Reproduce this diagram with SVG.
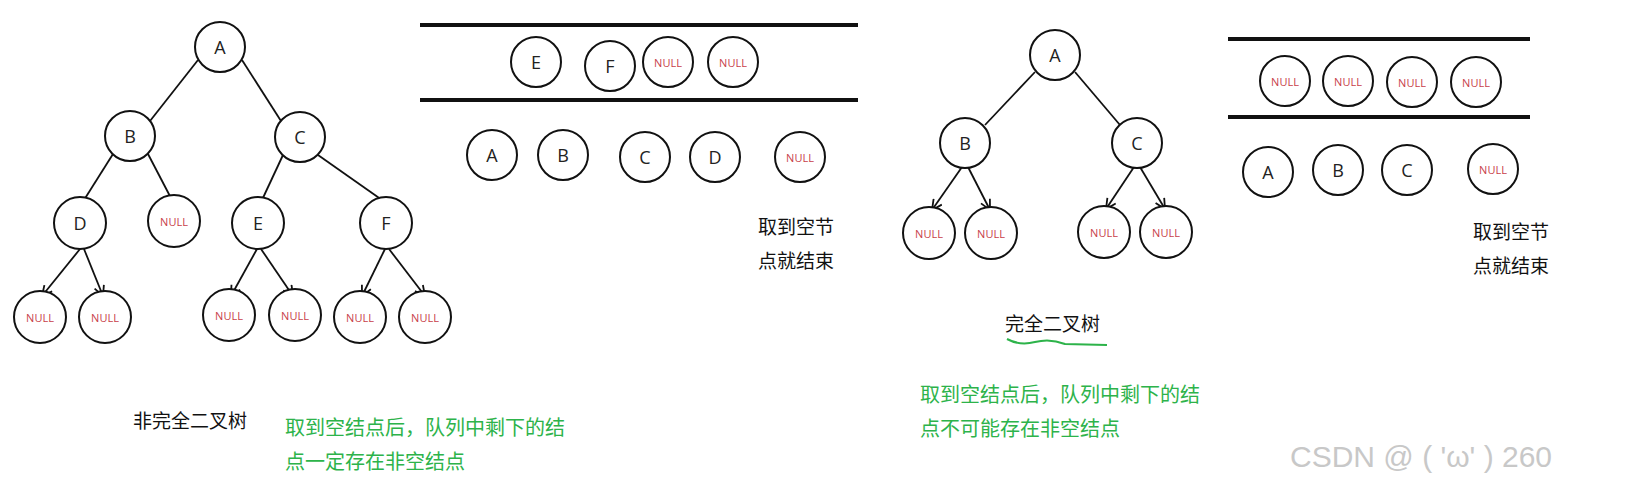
<svg xmlns="http://www.w3.org/2000/svg" width="1626" height="500" viewBox="0 0 1626 500">
<style>
.n{fill:#fff;stroke:#111;stroke-width:2}
.t{font-family:"Open Sans","Noto Sans",sans-serif;font-size:18px;fill:#222;text-anchor:middle;dominant-baseline:central}
.u{font-family:"Open Sans","Noto Sans",sans-serif;font-size:11px;fill:#c8404a;text-anchor:middle;dominant-baseline:central}
.e{stroke:#111;stroke-width:1.8;fill:none}
.bar{stroke:#111;stroke-width:4}
.cj{font-family:"Noto Sans CJK SC",sans-serif;font-size:19px;fill:#111}
.g{font-family:"Noto Sans CJK SC",sans-serif;font-size:20px;fill:#2db34a}
</style>
<defs><marker id="ar" viewBox="0 0 12 12" refX="11" refY="6" markerWidth="12" markerHeight="12" markerUnits="userSpaceOnUse" orient="auto"><path d="M1,1 L11,6 L1,11" fill="none" stroke="#111" stroke-width="1.8"/></marker></defs>
<rect width="1626" height="500" fill="#fff"/>
<g id="connectors">
<line class="e" x1="198" y1="60" x2="150" y2="121"/><line class="e" x1="242" y1="60" x2="281" y2="121"/>
<line class="e" x1="113" y1="154" x2="84" y2="200"/><line class="e" x1="148" y1="154" x2="172" y2="200"/>
<line class="e" x1="283" y1="155" x2="262" y2="200"/><line class="e" x1="318" y1="155" x2="382" y2="200"/>
<line class="e" x1="80" y1="249" x2="42" y2="296" marker-end="url(#ar)"/><line class="e" x1="84" y1="249" x2="103" y2="296" marker-end="url(#ar)"/>
<line class="e" x1="257" y1="249" x2="231" y2="296" marker-end="url(#ar)"/><line class="e" x1="261" y1="249" x2="293" y2="296" marker-end="url(#ar)"/>
<line class="e" x1="385" y1="249" x2="362" y2="296" marker-end="url(#ar)"/><line class="e" x1="389" y1="249" x2="425" y2="296" marker-end="url(#ar)"/>
<line class="e" x1="1035" y1="72" x2="985" y2="125"/><line class="e" x1="1075" y1="72" x2="1120" y2="125"/>
<line class="e" x1="962" y1="167" x2="932" y2="210" marker-end="url(#ar)"/><line class="e" x1="968" y1="167" x2="990" y2="210" marker-end="url(#ar)"/>
<line class="e" x1="1134" y1="167" x2="1106" y2="209" marker-end="url(#ar)"/><line class="e" x1="1140" y1="167" x2="1165" y2="209" marker-end="url(#ar)"/>
</g>
<g id="tree1">
<g id="A1"><circle class="n" cx="220" cy="47" r="25"/><text class="t" x="220" y="47">A</text></g>
<g id="B1"><circle class="n" cx="130" cy="136" r="25"/><text class="t" x="130" y="136">B</text></g>
<g id="C1"><circle class="n" cx="300" cy="137" r="25"/><text class="t" x="300" y="137">C</text></g>
<g id="D1"><circle class="n" cx="80" cy="223" r="26"/><text class="t" x="80" y="223">D</text></g>
<g id="N1"><circle class="n" cx="174" cy="221" r="26"/><text class="u" x="174" y="221">NULL</text></g>
<g id="E1"><circle class="n" cx="258" cy="223" r="26"/><text class="t" x="258" y="223">E</text></g>
<g id="F1"><circle class="n" cx="386" cy="223" r="26"/><text class="t" x="386" y="223">F</text></g>
<g id="N2"><circle class="n" cx="40" cy="317" r="26"/><text class="u" x="40" y="317">NULL</text></g>
<g id="N3"><circle class="n" cx="105" cy="317" r="26"/><text class="u" x="105" y="317">NULL</text></g>
<g id="N4"><circle class="n" cx="229" cy="315" r="26"/><text class="u" x="229" y="315">NULL</text></g>
<g id="N5"><circle class="n" cx="295" cy="315" r="26"/><text class="u" x="295" y="315">NULL</text></g>
<g id="N6"><circle class="n" cx="360" cy="317" r="26"/><text class="u" x="360" y="317">NULL</text></g>
<g id="N7"><circle class="n" cx="425" cy="317" r="26"/><text class="u" x="425" y="317">NULL</text></g>
</g>
<g id="queue1">
<line class="bar" x1="420" y1="25" x2="858" y2="25"/><line class="bar" x1="420" y1="100" x2="858" y2="100"/>
<circle class="n" cx="536" cy="62" r="25"/><text class="t" x="536" y="62">E</text>
<circle class="n" cx="610" cy="66" r="25"/><text class="t" x="610" y="66">F</text>
<circle class="n" cx="668" cy="62" r="25"/><text class="u" x="668" y="62">NULL</text>
<circle class="n" cx="733" cy="62" r="25"/><text class="u" x="733" y="62">NULL</text>
<circle class="n" cx="492" cy="155" r="25"/><text class="t" x="492" y="155">A</text>
<circle class="n" cx="563" cy="155" r="25"/><text class="t" x="563" y="155">B</text>
<circle class="n" cx="645" cy="157" r="25"/><text class="t" x="645" y="157">C</text>
<circle class="n" cx="715" cy="157" r="25"/><text class="t" x="715" y="157">D</text>
<circle class="n" cx="800" cy="157" r="25"/><text class="u" x="800" y="157">NULL</text>
<text class="cj" x="758" y="234">取到空节</text><text class="cj" x="758" y="268">点就结束</text>
</g>
<g id="tree2">
<circle class="n" cx="1055" cy="55" r="25"/><text class="t" x="1055" y="55">A</text>
<circle class="n" cx="965" cy="143" r="25"/><text class="t" x="965" y="143">B</text>
<circle class="n" cx="1137" cy="143" r="25"/><text class="t" x="1137" y="143">C</text>
<circle class="n" cx="929" cy="233" r="26"/><text class="u" x="929" y="233">NULL</text>
<circle class="n" cx="991" cy="233" r="26"/><text class="u" x="991" y="233">NULL</text>
<circle class="n" cx="1104" cy="232" r="26"/><text class="u" x="1104" y="232">NULL</text>
<circle class="n" cx="1166" cy="232" r="26"/><text class="u" x="1166" y="232">NULL</text>
</g>
<g id="queue2">
<line class="bar" x1="1228" y1="39" x2="1530" y2="39"/><line class="bar" x1="1228" y1="117" x2="1530" y2="117"/>
<circle class="n" cx="1285" cy="81" r="25"/><text class="u" x="1285" y="81">NULL</text>
<circle class="n" cx="1348" cy="81" r="25"/><text class="u" x="1348" y="81">NULL</text>
<circle class="n" cx="1412" cy="82" r="25"/><text class="u" x="1412" y="82">NULL</text>
<circle class="n" cx="1476" cy="82" r="25"/><text class="u" x="1476" y="82">NULL</text>
<circle class="n" cx="1268" cy="172" r="25"/><text class="t" x="1268" y="172">A</text>
<circle class="n" cx="1338" cy="170" r="25"/><text class="t" x="1338" y="170">B</text>
<circle class="n" cx="1407" cy="170" r="25"/><text class="t" x="1407" y="170">C</text>
<circle class="n" cx="1493" cy="169" r="25"/><text class="u" x="1493" y="169">NULL</text>
<text class="cj" x="1473" y="239">取到空节</text><text class="cj" x="1473" y="273">点就结束</text>
</g>
<g id="labels">
<text class="cj" x="133" y="428">非完全二叉树</text>
<text class="g" x="285" y="435">取到空结点后，队列中剩下的结</text>
<text class="g" x="285" y="469">点一定存在非空结点</text>
<text class="cj" x="1005" y="331">完全二叉树</text>
<path d="M1007,339 Q1020,346 1035,342 T1065,344 L1107,345" fill="none" stroke="#2db34a" stroke-width="2"/>
<text class="g" x="920" y="402">取到空结点后，队列中剩下的结</text>
<text class="g" x="920" y="436">点不可能存在非空结点</text>
<text x="1290" y="467" font-family="Liberation Sans,sans-serif" font-size="30" fill="#c8c8c8">CSDN @ ( 'ω' ) 260</text>
</g>
</svg>
